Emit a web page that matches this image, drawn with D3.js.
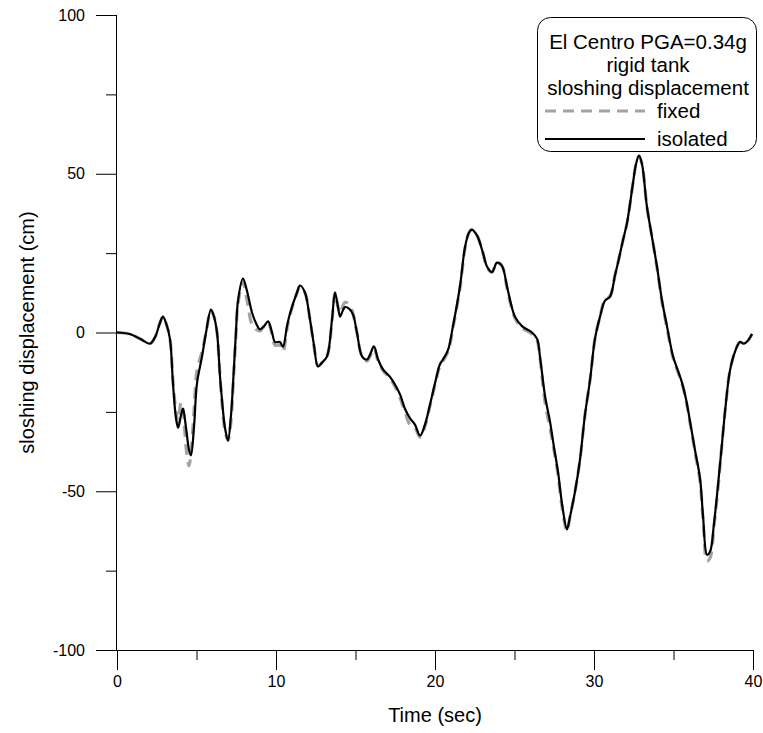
<!DOCTYPE html>
<html>
<head>
<meta charset="utf-8">
<script src="https://cdn.jsdelivr.net/npm/d3@7/dist/d3.min.js"></script>
<style>
  html, body { margin: 0; padding: 0; background: #fff; }
  svg { display: block; font-family: "Liberation Sans", Arial, sans-serif; }
</style>
</head>
<body>
<svg id="chart" width="763" height="733"></svg>
<script>
// ---- data ----
const timeSec = [0,0.82,1.45,2.08,2.39,2.70,2.89,3.08,3.33,3.52,3.71,3.84,4.03,4.15,4.34,4.53,4.65,4.84,5.03,5.35,5.60,5.91,6.10,6.29,6.48,6.60,6.79,6.98,7.17,7.30,7.48,7.61,7.92,8.18,8.49,8.74,8.99,9.25,9.50,9.75,9.94,10.25,10.44,10.69,10.88,11.32,11.51,11.82,12.14,12.39,12.64,12.89,13.21,13.52,13.71,13.90,14.03,14.21,14.34,14.59,14.84,15.09,15.41,15.72,15.91,16.16,16.42,16.73,17.17,17.48,17.80,18.11,18.43,18.74,19.06,19.37,19.69,20.00,20.31,20.50,20.82,21.13,21.57,21.89,22.14,22.33,22.52,22.70,23.02,23.27,23.58,23.90,24.21,24.53,24.78,25.03,25.47,26.10,26.42,26.60,26.92,27.23,27.48,27.74,27.99,28.30,28.49,28.81,29.12,29.43,29.75,30.06,30.38,30.69,31.01,31.32,31.51,31.82,32.08,32.45,32.64,32.83,33.02,33.33,33.65,33.96,34.28,34.59,34.97,35.28,35.53,35.79,36.04,36.35,36.67,36.86,37.11,37.30,37.55,37.80,38.05,38.30,38.55,38.87,39.18,39.43,39.69,39.94];

const isolated = [0,-0.5,-2,-3.5,-1.5,3,5,3,-2,-16,-27,-30,-26,-24,-30,-37,-38.7,-30,-16,-7.5,0,7.2,5,0,-14,-21,-30,-34,-26,-16,0,10,17,13,6.3,3,1,2,3.5,0,-3,-3,-4.5,2,6,12.6,14.8,12.6,4,-4,-10.7,-9.5,-7.5,4,12.6,8,5,7,8,7.5,5.7,0,-7.5,-8.5,-7,-4.4,-8.5,-11.6,-14,-16.4,-19.5,-24,-27,-29,-32.5,-29,-22.6,-16,-10,-8.5,-5.5,2,14.5,27,31.5,32.4,31.5,30,25,20.8,19,22,21,14.5,9,5,2,0,-2,-7.5,-20,-28,-36,-44,-54,-62,-58,-50,-40,-26,-15,-2,5,10,11.3,18,22,29,34.6,47,53,55.7,53,39.6,30,20.8,10,2,-7.5,-12,-15.7,-21,-28,-37,-46,-58,-70,-69,-60,-48,-35,-22,-12,-6,-3,-3.5,-2.5,-0.5];

const fixedBase = [0,-0.5,-2,-3.5,-1.5,3,5,3,-2,-15,-25,-28,-22,-24,-36,-42,-38,-25,-12,-6,0,7,5,0,-14,-22,-31,-34,-28,-17,-1,9,16,10,2.5,1,0.5,2,3,-0.5,-4,-4,-6,1,5.5,12.5,14.5,12.5,4,-4.5,-10.5,-9.5,-7.5,3.5,12.5,8,6,8.5,9.5,9,6,0,-7.5,-9,-7.5,-5,-9,-12,-14.5,-17,-20.5,-25,-29,-30,-33,-29.5,-23,-16.5,-10.5,-9,-6,1.5,14,26.5,31.5,32.5,31.5,30,25,20.5,19,22,21,14,8.5,4.5,1.5,-0.5,-2.5,-8,-22,-30,-37,-45,-55,-62.5,-58,-50,-40,-26,-15,-2,5,10.5,11.5,18,22,29,34.5,47,53,55.5,53,39.5,30,20.5,9.5,1.5,-8,-12.5,-16,-21.5,-28.5,-37.5,-47,-59,-72,-71,-61,-49,-35,-22,-12,-6,-3,-3.5,-2.5,-0.5];

const xMajorTicks = [0, 10, 20, 30, 40];
const xMinorTicks = [5, 15, 25, 35];
const yMajorTicks = [-100, -50, 0, 50, 100];
const yMinorTicks = [-75, -25, 25, 75];
const legendTitle = ["El Centro PGA=0.34g", "rigid tank", "sloshing displacement"];
const seriesNames = ["fixed", "isolated"];

// ---- layout ----
const svg = d3.select("#chart");
const mLeft = 117, mRight = 753, mTop = 15, mBottom = 650;

const x = d3.scaleLinear().domain([0, 40]).range([mLeft, mRight]);
const y = d3.scaleLinear().domain([-100, 100]).range([mBottom, mTop]);

const axisColor = "#000";
const plainFmt = d => String(d);

// x axis
const gx = svg.append("g").attr("transform", `translate(0,${mBottom})`);
gx.call(d3.axisBottom(x).tickValues(xMajorTicks).tickSize(20).tickPadding(6).tickFormat(plainFmt));
const gxMinor = gx.append("g").call(d3.axisBottom(x).tickValues(xMinorTicks).tickSize(10).tickFormat(""));
gxMinor.select(".domain").remove();
gx.selectAll("line").attr("stroke", axisColor).attr("stroke-width", 1);
gx.selectAll("text").attr("font-size", 16).attr("fill", "#000")
  .attr("font-family", "Liberation Sans, Arial, sans-serif");
gx.select(".domain").attr("stroke", axisColor).attr("d", `M${mLeft},0.5H${mRight}`);

// y axis
const gy = svg.append("g").attr("transform", `translate(${mLeft},0)`);
gy.call(d3.axisLeft(y).tickValues(yMajorTicks).tickSize(21).tickPadding(11).tickFormat(plainFmt));
const gyMinor = gy.append("g").call(d3.axisLeft(y).tickValues(yMinorTicks).tickSize(11).tickFormat(""));
gyMinor.select(".domain").remove();
gy.selectAll("line").attr("stroke", axisColor).attr("stroke-width", 1);
gy.selectAll("text").attr("font-size", 16).attr("fill", "#000")
  .attr("font-family", "Liberation Sans, Arial, sans-serif");
gy.select(".domain").attr("stroke", axisColor).attr("d", `M-0.5,${mTop}V${mBottom}`);

// axis titles
svg.append("text")
  .attr("x", (mLeft + mRight) / 2).attr("y", 722)
  .attr("text-anchor", "middle").attr("font-size", 20).attr("fill", "#000")
  .text("Time (sec)");
svg.append("text")
  .attr("transform", `translate(34,${(mTop + mBottom) / 2}) rotate(-90)`)
  .attr("text-anchor", "middle").attr("font-size", 20).attr("fill", "#000")
  .text("sloshing displacement (cm)");

// curves
const line = d3.line().x(d => x(d[0])).y(d => y(d[1])).curve(d3.curveCatmullRom.alpha(0.5));
const fixedData = timeSec.map((t, i) => [t, fixedBase[i]]);
const isoData = timeSec.map((t, i) => [t, isolated[i]]);

svg.append("path").datum(fixedData)
  .attr("d", line).attr("fill", "none")
  .attr("stroke", "#a3a3a3").attr("stroke-width", 3.2)
  .attr("stroke-dasharray", "11,7");
svg.append("path").datum(isoData)
  .attr("d", line).attr("fill", "none")
  .attr("stroke", "#000").attr("stroke-width", 2.2);

// legend
const lg = svg.append("g");
lg.append("rect")
  .attr("x", 537.5).attr("y", 17.5).attr("width", 219).attr("height", 134)
  .attr("rx", 13).attr("ry", 13)
  .attr("fill", "#fff").attr("stroke", "#000").attr("stroke-width", 1);
legendTitle.forEach((t, i) => {
  lg.append("text").attr("x", 648).attr("y", 49 + i * 23)
    .attr("text-anchor", "middle").attr("font-size", 20.5).attr("fill", "#000").text(t);
});
const legY = [111, 139];
lg.append("line").attr("x1", 545).attr("x2", 645).attr("y1", legY[0]).attr("y2", legY[0])
  .attr("stroke", "#a3a3a3").attr("stroke-width", 3.2).attr("stroke-dasharray", "11,7");
lg.append("line").attr("x1", 545).attr("x2", 645).attr("y1", legY[1]).attr("y2", legY[1])
  .attr("stroke", "#000").attr("stroke-width", 2.2);
seriesNames.forEach((s, i) => {
  lg.append("text").attr("x", 657).attr("y", legY[i] + 7)
    .attr("font-size", 20.5).attr("fill", "#000").text(s);
});
</script>
</body>
</html>
